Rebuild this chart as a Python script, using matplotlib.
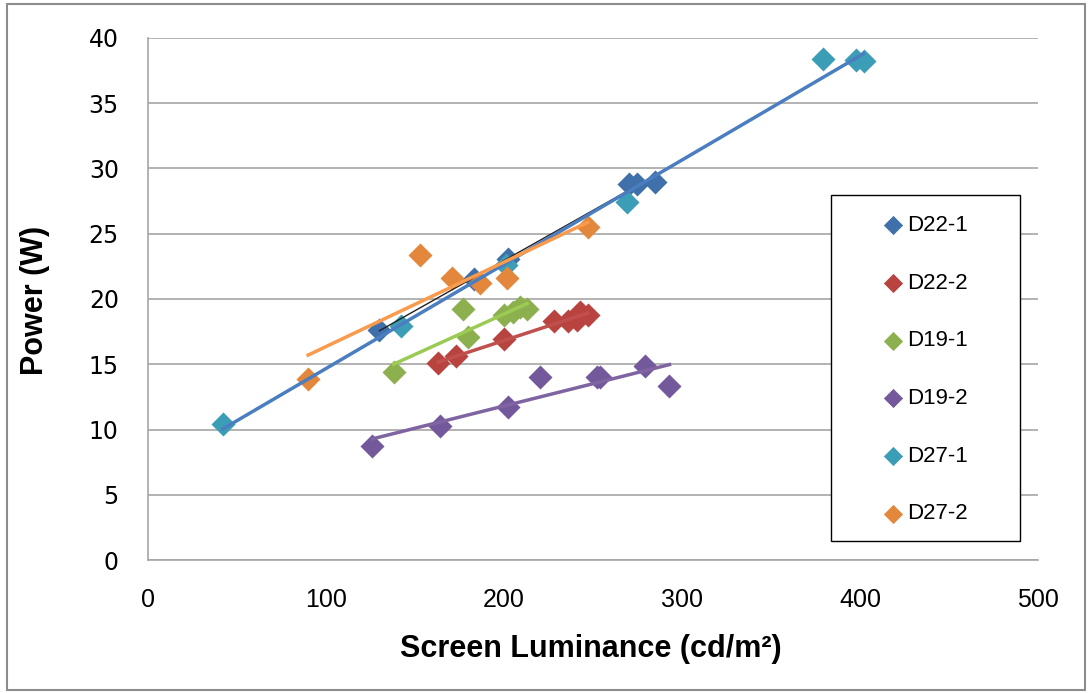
import matplotlib.pyplot as plt
import numpy as np
from matplotlib.patches import Rectangle

# readings: screen luminance (cd/m2) vs power (W)
d22_1_x = [130, 183, 202, 270, 275, 285]
d22_1_y = [17.6, 21.5, 23.1, 28.8, 28.8, 29.0]
d22_2_x = [163, 173, 200, 228, 236, 241, 243, 247]
d22_2_y = [15.1, 15.6, 16.9, 18.3, 18.3, 18.4, 19.0, 18.8]
d19_1_x = [138, 177, 180, 200, 205, 209, 213]
d19_1_y = [14.4, 19.2, 17.1, 18.8, 19.0, 19.4, 19.2]
d19_2_x = [126, 164, 202, 220, 252, 254, 279, 293]
d19_2_y = [8.7, 10.3, 11.7, 14.0, 14.0, 14.0, 14.9, 13.3]
d27_1_x = [42, 142, 201, 269, 379, 398, 402]
d27_1_y = [10.4, 17.9, 22.6, 27.4, 38.4, 38.3, 38.2]
d27_2_x = [90, 153, 171, 186.5, 201.7, 247]
d27_2_y = [13.9, 23.4, 21.6, 21.2, 21.6, 25.5]

names = ["D22-1", "D22-2", "D19-1", "D19-2", "D27-1", "D27-2"]
xs = [d22_1_x, d22_2_x, d19_1_x, d19_2_x, d27_1_x, d27_2_x]
ys = [d22_1_y, d22_2_y, d19_1_y, d19_2_y, d27_1_y, d27_2_y]
marker_cols = ["#4070AA", "#B9433F", "#8DB04F", "#73599B", "#3C9DB6", "#E2873B"]
# trendline colours (as in the original workbook)
line_cols = ["#222222", "#C0504D", "#9BCB55", "#8064A2", "#4A7EC0", "#F99A4C"]
line_w = [1.0, 2.5, 2.5, 2.5, 2.5, 2.5]

plt.rcParams['font.family'] = ['Liberation Sans', 'DejaVu Sans']

fig = plt.figure(figsize=(10.92, 6.93), dpi=100)
ax = fig.add_axes([0.1355, 0.1919, 0.815, 0.7533])

for i in range(len(names)):
    x = np.array(xs[i], dtype=float)
    y = np.array(ys[i], dtype=float)
    ax.scatter(x, y, marker='D', s=150, color=marker_cols[i], label=names[i],
               zorder=3, linewidths=0)

for i in range(len(names)):
    x = np.array(xs[i], dtype=float)
    y = np.array(ys[i], dtype=float)
    k, b = np.polyfit(x, y, 1)
    xx = np.array([x.min(), x.max()])
    z = 3.5 if i == 0 else 4
    ax.plot(xx, k * xx + b, color=line_cols[i], lw=line_w[i], zorder=z)

ax.set_xlim(0, 500)
ax.set_ylim(0, 40)
ax.set_xticks(range(0, 501, 100))
ax.set_yticks(range(0, 41, 5))
ax.yaxis.grid(True, color='#A6A6A6', lw=1.2)
ax.set_axisbelow(True)
ax.tick_params(length=0)
ax.tick_params(axis='y', labelsize=17, pad=21)
ax.tick_params(axis='x', labelsize=18, pad=20)
for lbl in ax.get_yticklabels():
    lbl.set_family('DejaVu Sans')
for s in ['top', 'right']:
    ax.spines[s].set_visible(False)
for s in ['left', 'bottom']:
    ax.spines[s].set_color('#A6A6A6')
    ax.spines[s].set_linewidth(1.2)

ax.set_xlabel("Screen Luminance (cd/m²)", fontsize=22, fontweight='bold')
ax.xaxis.set_label_coords(0.498, -0.142)
ax.set_ylabel("Power (W)", fontsize=22, fontweight='bold')
ax.yaxis.set_label_coords(-0.11, 0.498)

# legend box drawn separately, entries placed inside it
ax.add_patch(Rectangle((0.767, 0.036), 0.213, 0.663, transform=ax.transAxes,
                       facecolor='white', edgecolor='black', lw=1.0, zorder=6))
leg = ax.legend(loc='upper left', bbox_to_anchor=(0.8157, 0.682), frameon=False,
                fontsize=16, labelspacing=1.65, borderpad=0.5, handletextpad=0.3,
                handlelength=0.7, markerscale=0.8, borderaxespad=0)
leg.set_zorder(7)

fig.patches.append(Rectangle((0.0065, 0.004), 0.987, 0.99, transform=fig.transFigure,
                             fill=False, edgecolor='#8C8C8C', lw=1.5))

fig.savefig("out.png", dpi=100)
